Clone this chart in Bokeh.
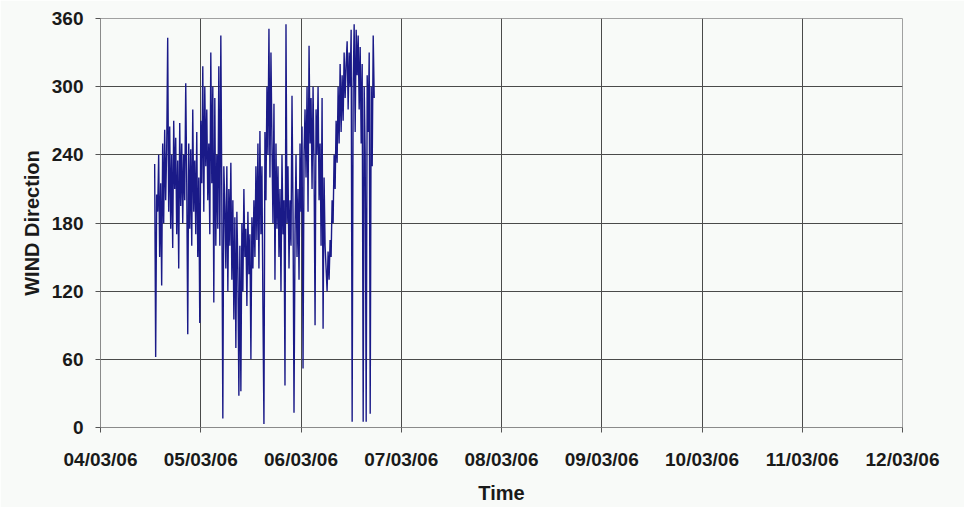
import pandas as pd
from bokeh.plotting import figure
from bokeh.models import FixedTicker, DatetimeTickFormatter, ColumnDataSource, Range1d
from bokeh.embed import file_html
from bokeh.resources import INLINE

# ---- data ----
start_time = "2006-03-04 12:58"
sample_minutes = 14.4
wind_direction = [
    232, 62, 205, 190, 240, 150, 215, 125, 250, 180,
    262, 200, 245, 343, 190, 265, 175, 240, 158, 270,
    210, 255, 170, 235, 140, 268, 195, 250, 180, 240,
    200, 303, 215, 82, 250, 175, 245, 160, 280, 190,
    235, 170, 260, 150, 220, 92, 270, 215, 318, 190,
    300, 230, 280, 200, 250, 170, 330, 215, 300, 110,
    290, 160, 240, 175, 318, 160, 345, 200, 8, 230,
    195, 140, 230, 120, 210, 160, 233, 130, 200, 95,
    185, 70, 190, 140, 28, 160, 32, 180, 120, 210,
    150, 175, 107, 190, 135, 170, 60, 185, 140, 200,
    150, 230, 165, 250, 140, 261, 170, 230, 105, 3,
    260, 200, 300, 240, 351, 220, 330, 250, 180, 285,
    130, 250, 175, 230, 150, 210, 120, 240, 170, 200,
    37, 355, 180, 230, 140, 200, 160, 292, 190, 13,
    170, 240, 150, 210, 130, 250, 190, 265, 52, 240,
    280, 220, 300, 190, 336, 250, 290, 210, 300, 230,
    90, 280, 240, 300, 200, 250, 160, 290, 87, 220,
    160, 140, 120, 155, 130, 165, 150, 200, 180, 240,
    210, 270, 233, 300, 250, 320, 260, 310, 270, 330,
    290, 320, 340, 280, 330, 300, 350, 5, 300, 355,
    260, 350, 310, 345, 280, 335, 250, 320, 5, 300,
    240, 5, 310, 260, 330, 12, 300, 230, 345, 290,
]
x_tick_labels = ["04/03/06", "05/03/06", "06/03/06", "07/03/06", "08/03/06",
                 "09/03/06", "10/03/06", "11/03/06", "12/03/06"]
y_ticks = [0, 60, 120, 180, 240, 300, 360]

times = pd.date_range(start=start_time, periods=len(wind_direction),
                      freq=pd.Timedelta(minutes=sample_minutes))
src = ColumnDataSource(data=dict(t=times, v=wind_direction))

tick_dates = pd.to_datetime(x_tick_labels, format="%d/%m/%y")
tick_ms = [d.value / 1e6 for d in tick_dates]

bg = "#f8faf8"
p = figure(width=964, height=507, x_axis_type="datetime",
           output_backend="svg", toolbar_location=None,
           min_border_left=100, min_border_right=62,
           min_border_top=18, min_border_bottom=80,
           background_fill_color=bg, border_fill_color=bg)
p.x_range = Range1d(tick_ms[0], tick_ms[-1])
p.y_range = Range1d(0, 360)

p.line("t", "v", source=src, line_color="#1a1a88", line_width=1.4)

font = "Liberation Sans"
p.xaxis.ticker = FixedTicker(ticks=tick_ms)
fmt = "%d/%m/%y"
p.xaxis.formatter = DatetimeTickFormatter(
    milliseconds=fmt, seconds=fmt, minsec=fmt, minutes=fmt, hourmin=fmt,
    hours=fmt, days=fmt, months=fmt, years=fmt)
p.yaxis.ticker = FixedTicker(ticks=y_ticks)

for ax in (p.xaxis, p.yaxis):
    ax.axis_line_color = "#8a8a8a"
    ax.major_tick_line_color = "#555555"
    ax.major_tick_in = 0
    ax.major_tick_out = 5
    ax.minor_tick_line_color = None
    ax.major_label_text_font = font
    ax.major_label_text_font_size = "19px"
    ax.major_label_text_font_style = "bold"
    ax.major_label_text_color = "#1a1a1a"
    ax.axis_label_text_font = font
    ax.axis_label_text_font_size = "20px"
    ax.axis_label_text_font_style = "bold"
    ax.axis_label_text_color = "#1a1a1a"

p.xaxis.axis_label = "Time"
p.xaxis.major_label_standoff = 16
p.xaxis.axis_label_standoff = 9
p.yaxis.axis_label = "WIND Direction"
p.yaxis.major_label_standoff = 12
p.yaxis.axis_label_standoff = 6

p.xgrid.grid_line_color = "#4a4a4a"
p.ygrid.grid_line_color = "#4a4a4a"
p.xgrid.grid_line_width = 1
p.ygrid.grid_line_width = 1
p.outline_line_color = "#a0a0a0"

open("out.html", "w").write(file_html(p, INLINE))
